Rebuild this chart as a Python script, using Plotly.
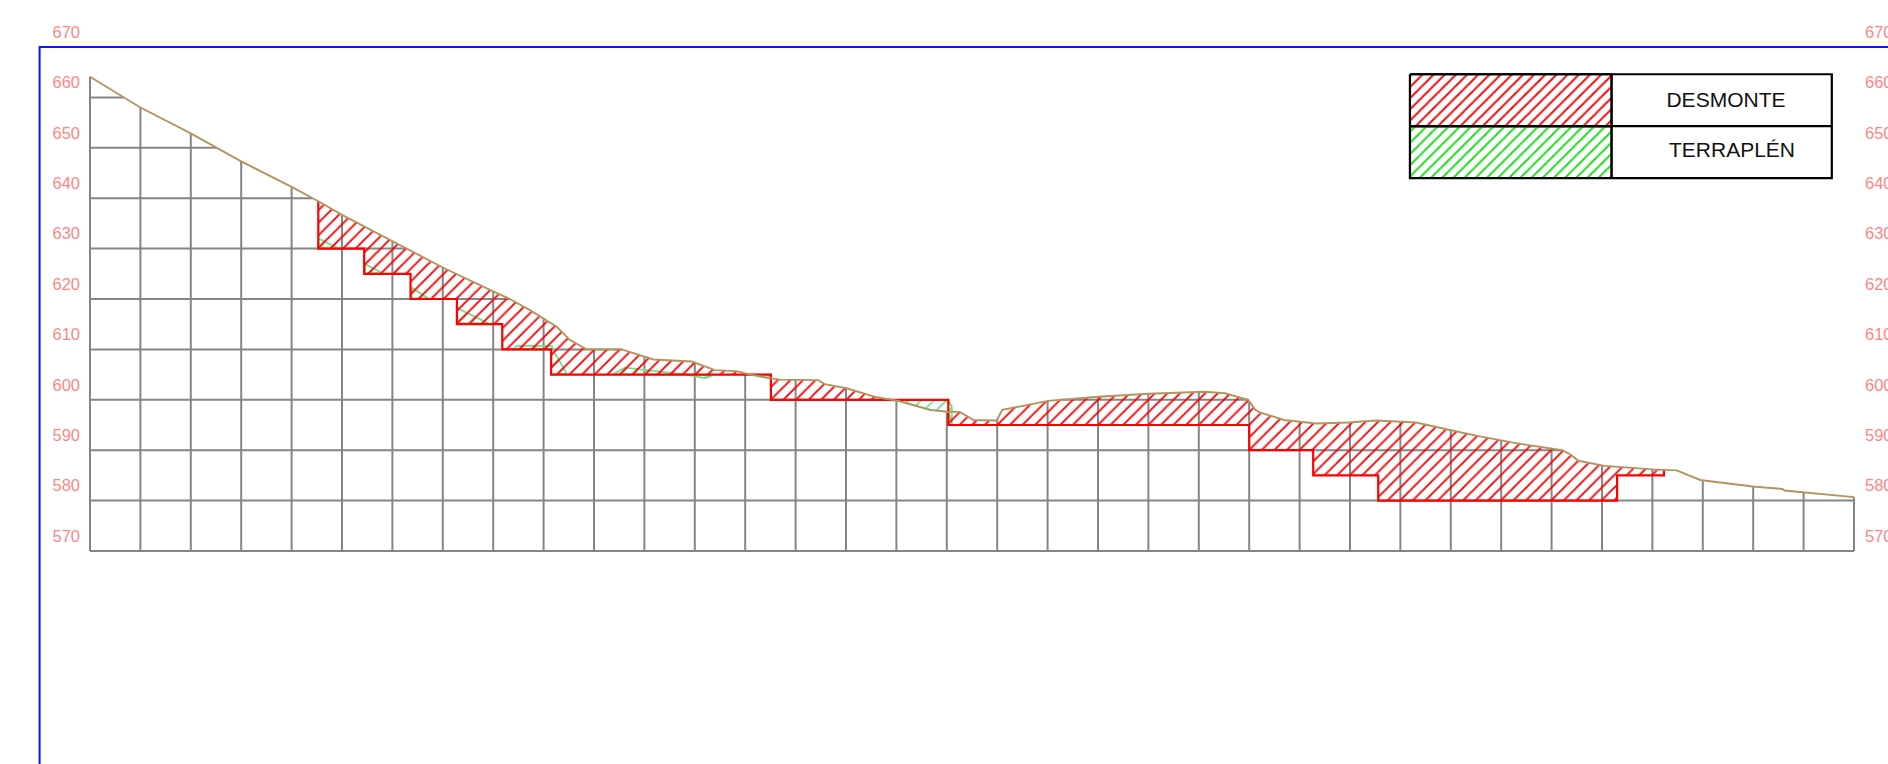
import numpy as np
import plotly.graph_objects as go

# Axis levels and grid stations
levels = [570, 580, 590, 600, 610, 620, 630, 640, 650, 660, 670]
grid_levels = [570, 580, 590, 600, 610, 620, 630, 640, 650, 660]
stations = [0, 10, 20, 30, 40, 50, 60, 70, 80, 90, 100, 110, 120, 130, 140, 150, 160, 170, 180,
            190, 200, 210, 220, 230, 240, 250, 260, 270, 280, 290, 300, 310, 320, 330, 340, 350]

# Ground profile
terrain_x = [0, 10, 19.9, 25.1, 30, 40.1, 45.3, 50, 60, 62.9, 70.1, 80, 83.3, 87.3, 90, 92.6, 95.2,
             98.5, 105.5, 111.8, 119.4, 124, 128.3, 130.6, 134.9, 136.9, 144.5, 145.8, 150.1, 156.1,
             160.4, 166.7, 170.3, 172.6, 175.3, 179.9, 181, 190.1, 200, 210, 221.2, 225.2, 229.8,
             231.2, 232.1, 236.9, 243.3, 249.6, 255.2, 263.1, 269.4, 275, 282.9, 292.1, 293.7,
             295.3, 300.5, 310, 314.8, 319.5, 329.9, 335.8, 336.2, 350]
terrain_y = [664.1, 658.0, 652.9, 650, 647.3, 642.2, 639.4, 636.7, 631.4, 630, 626.2, 621.5, 620,
             617.8, 616.2, 614.5, 611.9, 610, 610, 608.0, 607.6, 605.9, 605.7, 605.1, 604.3, 604,
             603.9, 603.1, 602.3, 600.5, 599.8, 598, 597.6, 597.6, 596, 595.9, 598, 599.8, 600.6,
             601.2, 601.6, 601.3, 600, 598, 597.5, 596, 595.3, 595.5, 595.9, 595.5, 594.1, 592.9,
             591.4, 590, 589.2, 587.9, 586.9, 586.2, 586, 584.1, 582.8, 582.3, 582, 580.7]

# Cut formation, drawn as one stepped line
cut_x = [45.3, 45.3, 54.4, 54.4, 63.6, 63.6, 72.8, 72.8, 81.8, 81.8, 91.5, 91.5, 135.1, 135.1,
         170.3, 170.3, 230, 230, 242.7, 242.7, 255.6, 255.6, 303, 303, 312.3, 312.3]
cut_y = [639.4, 630, 630, 625, 625, 620, 620, 615, 615, 610, 610, 605, 605, 600,
         600, 595, 595, 590, 590, 585, 585, 580, 580, 585, 585, 586.1]

# Hatched cut areas, each closed along the ground profile
cut1_x = [131.2, 91.5, 91.5, 81.8, 81.8, 72.8, 72.8, 63.6, 63.6, 54.4, 54.4, 45.3, 45.3]
cut1_y = [605, 605, 610, 610, 615, 615, 620, 620, 625, 625, 630, 630, 639.4]
cut2_x = [156.1, 135.1, 135.1]
cut2_y = [600, 600, 604.2]
cut3_x = [312.3, 312.3, 303, 303, 255.6, 255.6, 242.7, 242.7, 230, 230, 170.3, 170.3]
cut3_y = [586.1, 585, 585, 580, 580, 585, 585, 590, 590, 595, 595, 597.6]

# Fill areas
fill_parts = [
    ([45.3, 49, 45.3], [632, 630.2, 630.2]),
    ([54.6, 57.9, 54.6], [626.9, 625.2, 625.1]),
    ([63.8, 67.1, 63.8], [622.3, 620.1, 620.1]),
    ([72.9, 79, 72.9], [618.2, 615.2, 615.2]),
    ([84, 84.7, 91.6, 92.2, 94.6, 91.5, 91.5], [610, 610.7, 610.7, 609.3, 605.2, 605, 610]),
    ([103.8, 106.2, 110.4, 117.7, 122, 123.3, 121], [605.1, 606.4, 605.9, 605.1, 604.3, 604.7, 605]),
    ([131.2, 135.1, 135.1], [605, 605, 604.2]),
    ([156.1, 160.4, 166.7, 170.3, 171, 171, 170.3], [600, 599.8, 598, 597.6, 595.1, 598.6, 600]),
]

# Key
key_x = [261.9, 301.9, 345.6]
key_y = [664.6, 654.3, 644]
key_labels = ["DESMONTE", "TERRAPLÉN"]
key_label_x = [324.6, 325.8]
key_label_y = [659.1, 649.2]

# Frame
frame_x = [-10, -10, 365]
frame_y = [520, 670, 670]

terrain_x = np.array(terrain_x, dtype=float)
terrain_y = np.array(terrain_y, dtype=float)


def level_spans(level):
    """Parts of a horizontal level that lie under the ground profile."""
    d = terrain_y - level
    spans, start = [], 0.0
    inside = True
    for i in range(1, len(d)):
        if d[i - 1] >= 0 and d[i] < 0:
            spans.append((start, terrain_x[i - 1] + (terrain_x[i] - terrain_x[i - 1]) * d[i - 1] / (d[i - 1] - d[i])))
            inside = False
        elif d[i - 1] < 0 and d[i] >= 0:
            start = terrain_x[i - 1] + (terrain_x[i] - terrain_x[i - 1]) * d[i - 1] / (d[i - 1] - d[i])
            inside = True
    if inside:
        spans.append((start, terrain_x[-1]))
    return spans


grid_x, grid_y = [], []
for s in stations:
    grid_x += [s, s, None]
    grid_y += [570, float(np.interp(s, terrain_x, terrain_y)), None]
for lv in grid_levels:
    for a, b in level_spans(lv):
        grid_x += [a, b, None]
        grid_y += [lv, lv, None]

GREY, BROWN, RED, GREEN, SALMON = "#858585", "#b3945f", "#ff0000", "#6fdf8c", "#ff8585"
CLEAR = "rgba(0,0,0,0)"


def hatch(colour, size, solidity):
    return dict(shape="/", fgcolor=colour, bgcolor=CLEAR, size=size, solidity=solidity, fillmode="replace")


fig = go.Figure()
fig.add_trace(go.Scatter(x=grid_x, y=grid_y, mode="lines", line=dict(color=GREY, width=2),
                         hoverinfo="skip", showlegend=False))

for px_, py_ in fill_parts:
    fig.add_trace(go.Scatter(x=px_ + px_[:1], y=py_ + py_[:1], mode="lines", fill="toself", fillcolor=CLEAR,
                             fillpattern=hatch(GREEN, 8.9, 0.21), line=dict(color=GREEN, width=1.8),
                             hoverinfo="skip", showlegend=False))

for cx, cy in [(cut1_x, cut1_y), (cut2_x, cut2_y), (cut3_x, cut3_y)]:
    x0, x1 = cx[-1], cx[0]
    mask = (terrain_x > x0) & (terrain_x < x1)
    poly_x = cx + list(terrain_x[mask]) + [x1, cx[0]]
    poly_y = cy + list(terrain_y[mask]) + [float(np.interp(x1, terrain_x, terrain_y)), cy[0]]
    fig.add_trace(go.Scatter(x=poly_x, y=poly_y, mode="lines", fill="toself", fillcolor=CLEAR,
                             fillpattern=hatch(RED, 8.9, 0.21), line=dict(color=CLEAR, width=0),
                             hoverinfo="skip", showlegend=False))
fig.add_trace(go.Scatter(x=cut_x, y=cut_y, mode="lines", line=dict(color=RED, width=2.2),
                         hoverinfo="skip", showlegend=False))

fig.add_trace(go.Scatter(x=list(terrain_x), y=list(terrain_y), mode="lines", line=dict(color=BROWN, width=1.9),
                         hoverinfo="skip", showlegend=False))

# Key
for i, colour in enumerate(["#ff0000", "#12e012"]):
    fig.add_trace(go.Scatter(x=[key_x[0], key_x[1], key_x[1], key_x[0], key_x[0]],
                             y=[key_y[i], key_y[i], key_y[i + 1], key_y[i + 1], key_y[i]],
                             mode="lines", fill="toself", fillcolor=CLEAR, fillpattern=hatch(colour, 7.9, 0.23),
                             line=dict(color="black", width=2), hoverinfo="skip", showlegend=False))
fig.add_trace(go.Scatter(x=[key_x[0], key_x[2], key_x[2], key_x[0], key_x[0], None, key_x[0], key_x[2], None, key_x[1], key_x[1]],
                         y=[key_y[0], key_y[0], key_y[2], key_y[2], key_y[0], None, key_y[1], key_y[1], None, key_y[0], key_y[2]],
                         mode="lines", line=dict(color="black", width=2.2), hoverinfo="skip", showlegend=False))
fig.add_trace(go.Scatter(x=key_label_x, y=key_label_y, mode="text", text=key_labels, textposition="middle center",
                         textfont=dict(family="Liberation Sans", size=21, color="#111111"),
                         hoverinfo="skip", showlegend=False))

# Frame, kept on the second y axis so that the right-hand labels are drawn
fig.add_trace(go.Scatter(x=frame_x, y=frame_y, yaxis="y2", mode="lines",
                         line=dict(color="#1010ff", width=2), hoverinfo="skip", showlegend=False))

tick_font = dict(family="Liberation Sans", size=16.5, color=SALMON)
axis_common = dict(range=[527.74, 679.33], tickvals=levels, ticktext=[str(v) for v in levels], showgrid=False,
                   zeroline=False, showline=False, ticks="", tickfont=tick_font, ticklabelshift=-15,
                   ticklabelstandoff=10, automargin=False, anchor="free")
fig.update_layout(
    width=1888, height=764, autosize=False, paper_bgcolor="white", plot_bgcolor="white",
    margin=dict(l=0, r=0, t=0, b=0, pad=0), showlegend=False,
    xaxis=dict(range=[-17.857, 356.75], visible=False, showgrid=False, zeroline=False, automargin=False),
    yaxis=dict(**axis_common, position=90 / 1888),
    yaxis2=dict(**axis_common, overlaying="y", side="right", position=1854 / 1888),
)
fig.write_html("out.html", post_script="document.body.style.margin='0';",
               config={"displayModeBar": False})
